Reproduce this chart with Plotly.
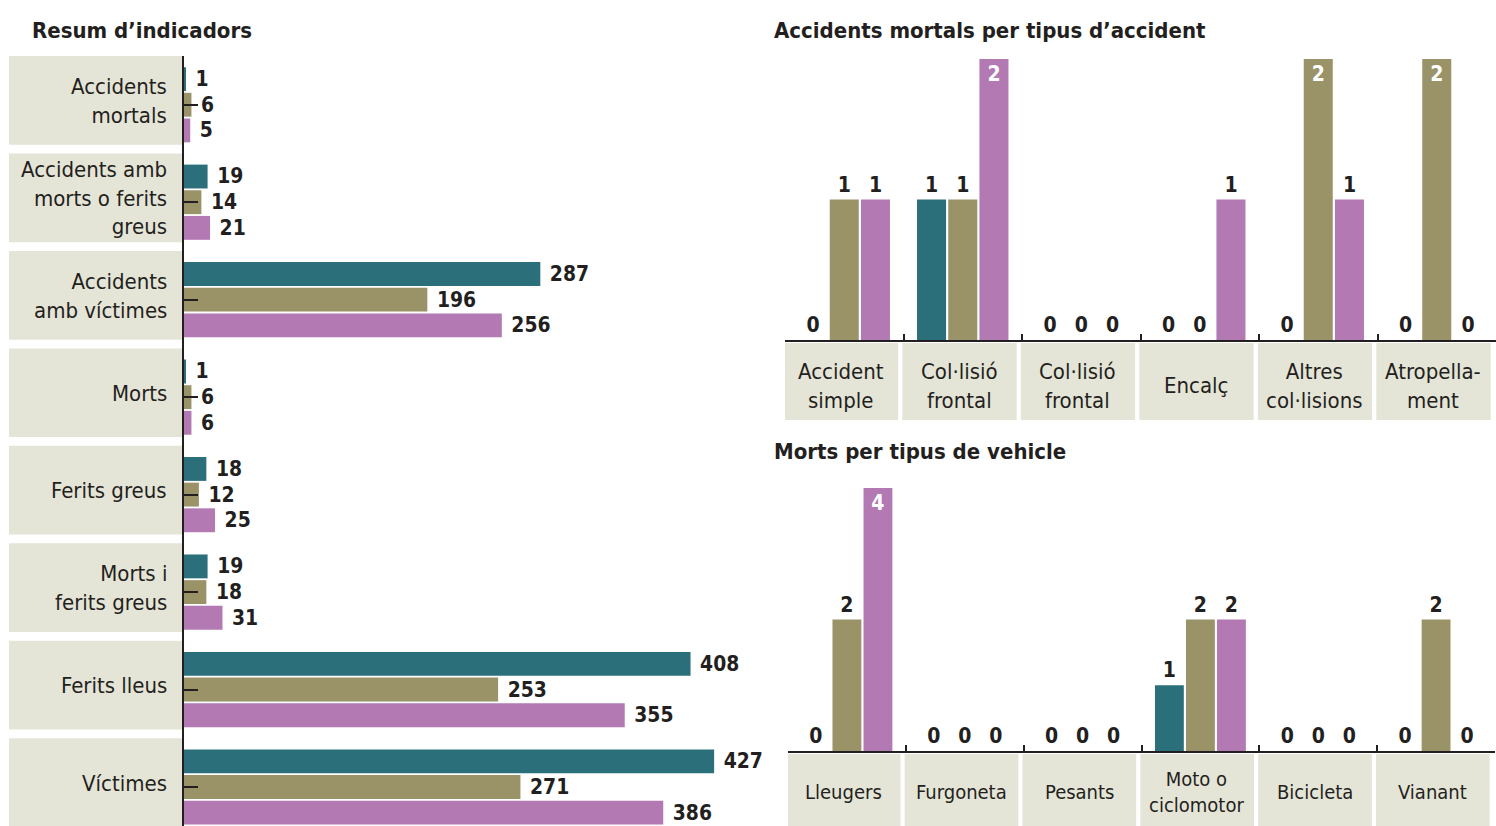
import plotly.graph_objects as go

# ---------------- data ----------------
indicators = ["Accidents mortals", "Accidents amb morts o ferits greus", "Accidents amb víctimes",
              "Morts", "Ferits greus", "Morts i ferits greus", "Ferits lleus", "Víctimes"]
indicator_labels = ["Accidents<br>mortals", "Accidents amb<br>morts o ferits<br>greus", "Accidents<br>amb víctimes",
                    "Morts", "Ferits greus", "Morts i<br>ferits greus", "Ferits lleus", "Víctimes"]
ind_teal = [1, 19, 287, 1, 18, 19, 408, 427]
ind_olive = [6, 14, 196, 6, 12, 18, 253, 271]
ind_purple = [5, 21, 256, 6, 25, 31, 355, 386]

acc_types = ["Accident<br>simple", "Col·lisió<br>frontal", "Col·lisió<br>frontal", "Encalç",
             "Altres<br>col·lisions", "Atropella-<br>ment"]
acc_teal = [0, 1, 0, 0, 0, 0]
acc_olive = [1, 1, 0, 0, 2, 2]
acc_purple = [1, 2, 0, 1, 1, 0]

veh_types = ["Lleugers", "Furgoneta", "Pesants", "Moto o<br>ciclomotor", "Bicicleta", "Vianant"]
veh_teal = [0, 0, 0, 1, 0, 0]
veh_olive = [2, 0, 0, 2, 0, 2]
veh_purple = [4, 0, 0, 2, 0, 0]

series_names = ["Sèrie 1", "Sèrie 2", "Sèrie 3"]

# ---------------- style ----------------
W, H = 1496, 826
TEAL, OLIVE, PURPLE = "#2b6f7b", "#9a9368", "#b379b3"
BOX = "#e5e5d7"
DARK = "#231f20"
FONT = "DejaVu Sans Condensed, Liberation Sans Narrow, Roboto, sans-serif"
NUM_SIZE = 21
colors = [TEAL, OLIVE, PURPLE]

fig = go.Figure()

# left horizontal bars
for name, vals, c in zip(series_names, [ind_teal, ind_olive, ind_purple], colors):
    fig.add_trace(go.Bar(
        y=indicators, x=vals, orientation="h", name=name, marker=dict(color=c, line=dict(width=0)),
        text=[" " + str(v) for v in vals], textposition="outside", cliponaxis=False,
        textfont=dict(family=FONT, size=NUM_SIZE, color=DARK, weight="bold"),
        xaxis="x", yaxis="y", showlegend=False, hoverinfo="skip"))

def add_vertical(cats, series, xa, ya):
    top = max(max(s) for s in series)
    xs = list(range(len(cats)))
    for name, vals, c in zip(series_names, series, colors):
        pos = ["inside" if v == top else "outside" for v in vals]
        fig.add_trace(go.Bar(
            x=xs, y=vals, name=name, marker=dict(color=c, line=dict(width=0)),
            text=[str(v) for v in vals], textposition=pos, insidetextanchor="end",
            cliponaxis=False, textangle=0,
            insidetextfont=dict(family=FONT, size=NUM_SIZE, color="white", weight="bold"),
            outsidetextfont=dict(family=FONT, size=NUM_SIZE, color=DARK, weight="bold"),
            xaxis=xa, yaxis=ya, showlegend=False, hoverinfo="skip"))
    return top

top_acc = add_vertical(acc_types, [acc_teal, acc_olive, acc_purple], "x2", "y2")
top_veh = add_vertical(veh_types, [veh_teal, veh_olive, veh_purple], "x3", "y3")

shapes = []
annotations = []

# left category boxes & labels
for i, lab in enumerate(indicator_labels):
    shapes.append(dict(type="rect", xref="paper", yref="y", x0=9 / W, x1=183 / W,
                       y0=i - 0.5, y1=i + 0.41, fillcolor=BOX, line=dict(width=0), layer="below"))
    annotations.append(dict(text=lab, xref="paper", yref="y", x=169 / W, y=i - 0.04, xanchor="right",
                            yanchor="middle", align="right", showarrow=False,
                            font=dict(family=FONT, size=22, color=DARK)))

# right category boxes & labels
for cats, xr, y0, y1, ymid, fs in [(acc_types, "x2", 406 / H, 483 / H, (826 - 385.5) / H, 22),
                                    (veh_types, "x3", 0.0, 72 / H, (826 - 792) / H, 20)]:
    for i, lab in enumerate(cats):
        shapes.append(dict(type="rect", xref=xr, yref="paper", x0=i - 0.51, x1=i + 0.455,
                           y0=y0, y1=y1, fillcolor=BOX, line=dict(width=0), layer="below"))
        annotations.append(dict(text=lab, xref=xr, yref="paper", x=i - 0.03, y=ymid, xanchor="center",
                                yanchor="middle", align="center", showarrow=False,
                                font=dict(family=FONT, size=fs, color=DARK)))

# titles
for txt, x, y in [("Resum d’indicadors", 30, 30),
                  ("Accidents mortals per tipus d’accident", 772, 30),
                  ("Morts per tipus de vehicle", 772, 452)]:
    annotations.append(dict(text=txt, xref="paper", yref="paper", x=x / W, y=(H - y) / H,
                            xanchor="left", yanchor="middle", showarrow=False,
                            font=dict(family=FONT, size=22, color=DARK, weight="bold")))

n_acc = len(acc_types)
n_veh = len(veh_types)

fig.update_layout(
    width=W, height=H, margin=dict(l=0, r=0, t=0, b=0),
    paper_bgcolor="white", plot_bgcolor="rgba(0,0,0,0)",
    barmode="group", bargap=0.21, bargroupgap=0.07,
    shapes=shapes, annotations=annotations,
    xaxis=dict(domain=[184 / W, 770 / W], range=[0, 472], visible=False, fixedrange=True),
    yaxis=dict(domain=[0, (H - 56) / H], range=[len(indicators) - 0.6, -0.5], type="category",
               showline=True, linecolor=DARK, linewidth=2, ticks="inside", ticklen=14,
               tickwidth=2, tickcolor=DARK, showticklabels=False, showgrid=False, zeroline=False),
    xaxis2=dict(domain=[785 / W, 1.0], range=[-0.5, n_acc - 0.5], anchor="y2",
                showline=True, linecolor=DARK, linewidth=2, ticks="inside", ticklen=6, tickwidth=2,
                tickcolor=DARK, tickvals=[i - 0.5 for i in range(n_acc + 1)],
                showticklabels=False, showgrid=False, zeroline=False),
    yaxis2=dict(domain=[(H - 340) / H, (H - 59) / H], range=[0, top_acc], anchor="x2", visible=False),
    xaxis3=dict(domain=[788 / W, 1495 / W], range=[-0.5, n_veh - 0.5], anchor="y3",
                showline=True, linecolor=DARK, linewidth=2, ticks="inside", ticklen=6, tickwidth=2,
                tickcolor=DARK, tickvals=[i - 0.5 for i in range(n_veh + 1)],
                showticklabels=False, showgrid=False, zeroline=False),
    yaxis3=dict(domain=[(H - 751) / H, (H - 488) / H], range=[0, top_veh], anchor="x3", visible=False),
)

fig.write_html("out.html", config={"displayModeBar": False},
               post_script="document.body.style.margin='0';")
